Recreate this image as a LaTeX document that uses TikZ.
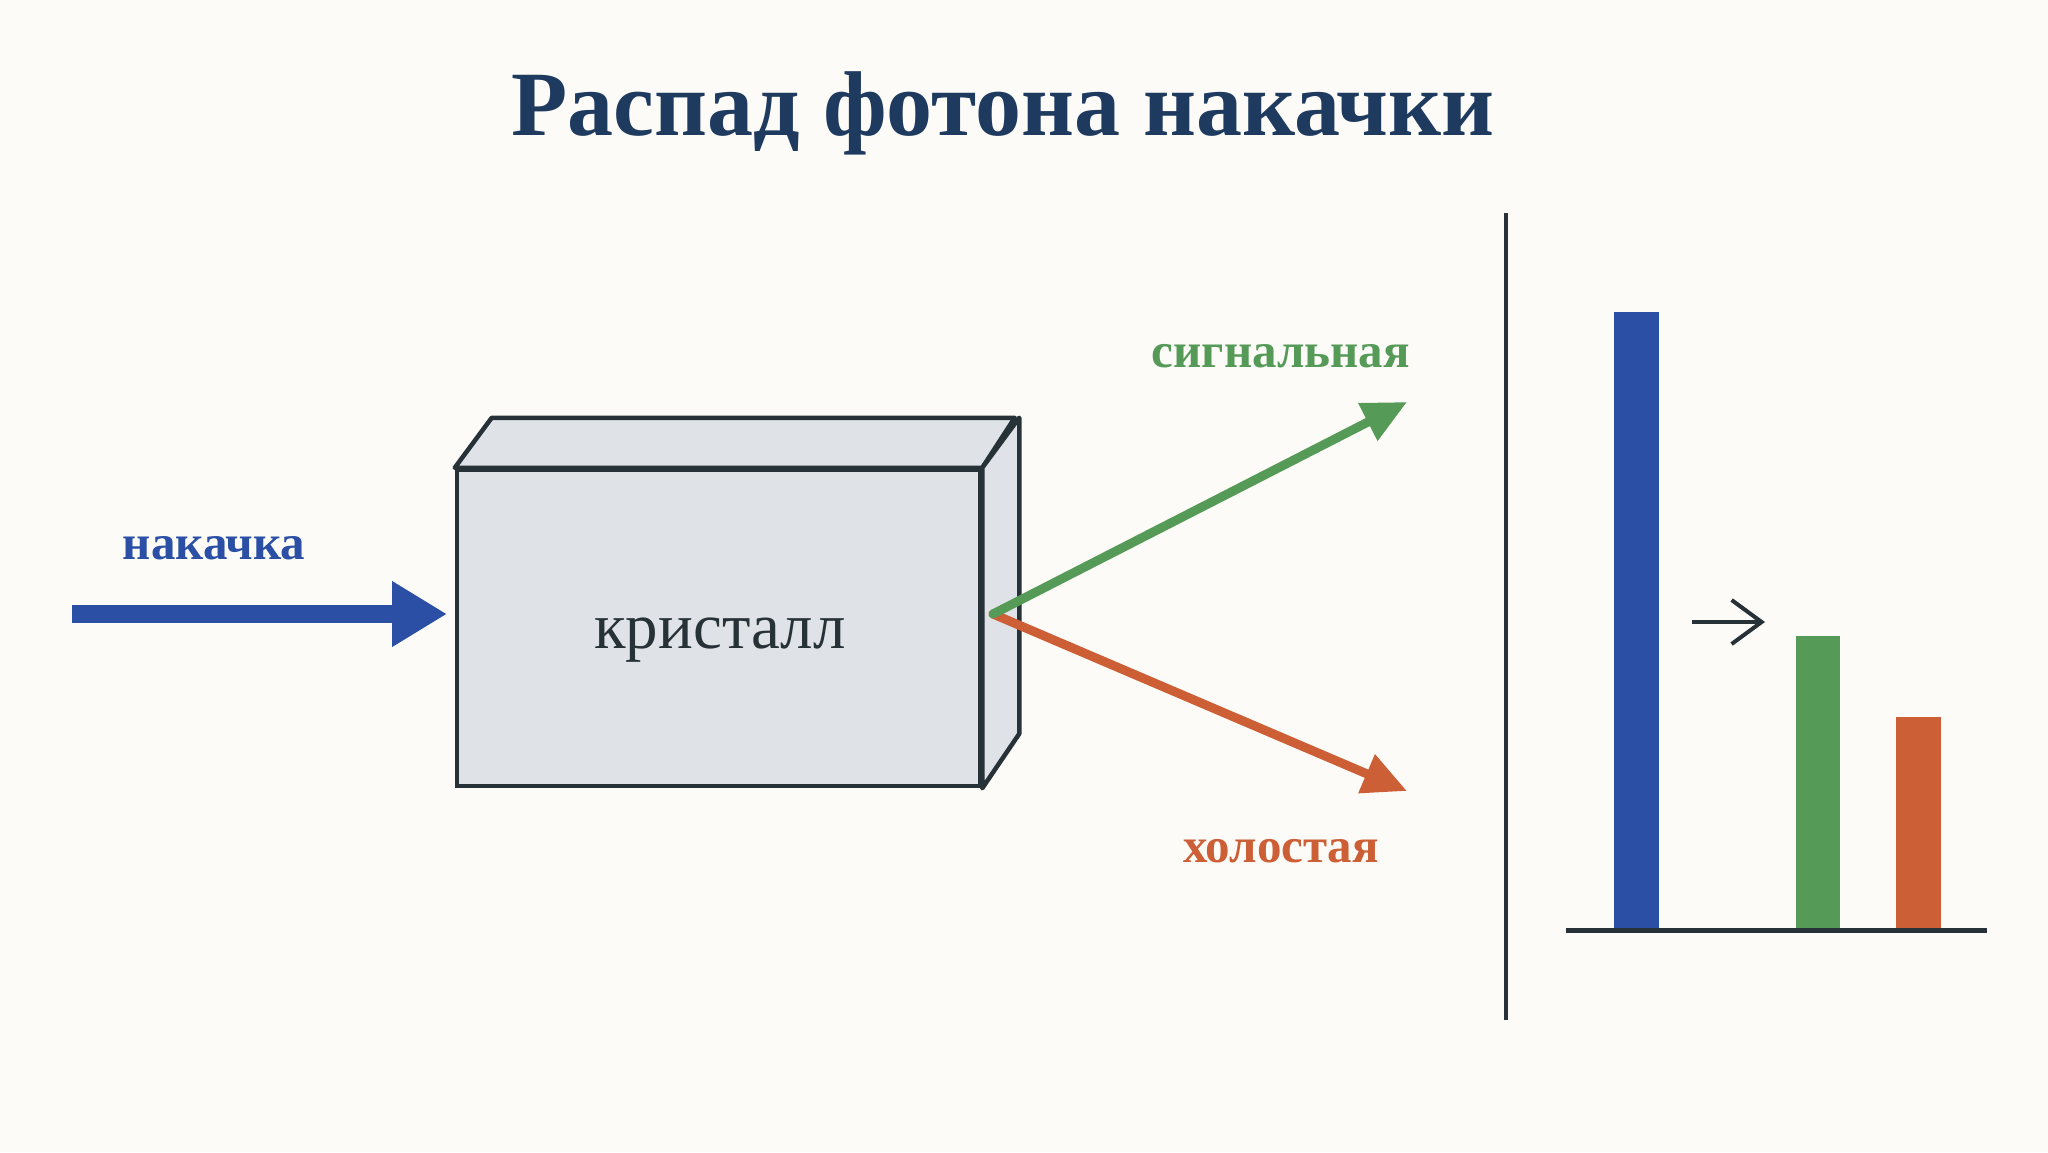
\documentclass[tikz,border=0pt]{standalone}
\usepackage{fontspec}
\setmainfont{Liberation Serif}
\usetikzlibrary{arrows.meta}
\definecolor{bgcream}{HTML}{FCFBF7}
\definecolor{titlenavy}{HTML}{1E3A5F}
\definecolor{pumpblue}{HTML}{2A4FA5}
\definecolor{signalgreen}{HTML}{559A57}
\definecolor{idleorange}{HTML}{CC5F35}
\definecolor{inkdark}{HTML}{263238}
\definecolor{crystalgrey}{HTML}{DFE3E7}
\begin{document}
\begin{tikzpicture}[x=1pt,y=-1pt,
      title/.style={font=\bfseries\fontsize{92}{100}\selectfont, text=titlenavy},
      beamlabel/.style={font=\bfseries\fontsize{49}{56}\selectfont},
      crystal/.style={draw=inkdark, fill=crystalgrey, line width=4.5pt, rectangle, minimum width=523pt, minimum height=316pt},
      crystaltext/.style={font=\fontsize{65}{72}\selectfont, text=inkdark},
      beam/.style={line width=9pt, line cap=round, -{Triangle[length=44pt,width=40pt]}},
      pump/.style={pumpblue, line width=18pt, -{Triangle[length=55pt,width=62pt]}}
    ]
    \fill[bgcream] (0,0) rectangle (2048,1152);
    \useasboundingbox (0,0) rectangle (2048,1152);

    \node[title, anchor=base] (heading) at (1003,135) {Распад фотона накачки};

    % crystal
    \node[crystal] (front) at (718.5,628) {};
    \draw[inkdark, fill=crystalgrey, line width=4.5pt, line join=round]
      (front.north west) -- ++(37,-50) -- ++(523,0) -- (front.north east) -- cycle;
    \draw[inkdark, fill=crystalgrey, line width=4.5pt, line join=round]
      (front.north east) -- ++(37,-50) -- ++(0,316) -- (front.south east) -- cycle;
    \node[crystaltext] (crystallabel) at (720,640) {кристалл};

    % pump
    \coordinate (pumpstart) at (72,614);
    \coordinate (pumptip) at (447,614);
    \draw[pump] (pumpstart) -- (pumptip);
    \node[beamlabel, text=pumpblue] (pumplabel) at (214,548) {накачка};

    % signal and idler
    \coordinate (emit) at (993,614);
    \coordinate (signaltip) at (1407,402);
    \coordinate (idlertip) at (1407,791);
    \draw[beam, idleorange] (emit) -- (idlertip);
    \draw[beam, signalgreen] (emit) -- (signaltip);
    \node[beamlabel, text=signalgreen] (signallabel) at (1281,356) {сигнальная};
    \node[beamlabel, text=idleorange] (idlerlabel) at (1281,851) {холостая};

    % spectrum
    \coordinate (divtop) at (1506,213);
    \coordinate (divbottom) at (1506,1020);
    \draw[inkdark, line width=4pt] (divtop) -- (divbottom);
    \fill[pumpblue] (1614,930) rectangle (1659,312);
    \fill[signalgreen] (1796,930) rectangle (1840,636);
    \fill[idleorange] (1896,930) rectangle (1941,717);
    \coordinate (axisleft) at (1566,930);
    \coordinate (axisright) at (1987,930);
    \draw[inkdark, line width=5pt] (axisleft) -- (axisright);
    \coordinate (shiftfrom) at (1692,622);
    \coordinate (shiftto) at (1765,622);
    \draw[inkdark, line width=4pt, -{Straight Barb[length=30pt,width=44pt]}] (shiftfrom) -- (shiftto);
\end{tikzpicture}
\end{document}
